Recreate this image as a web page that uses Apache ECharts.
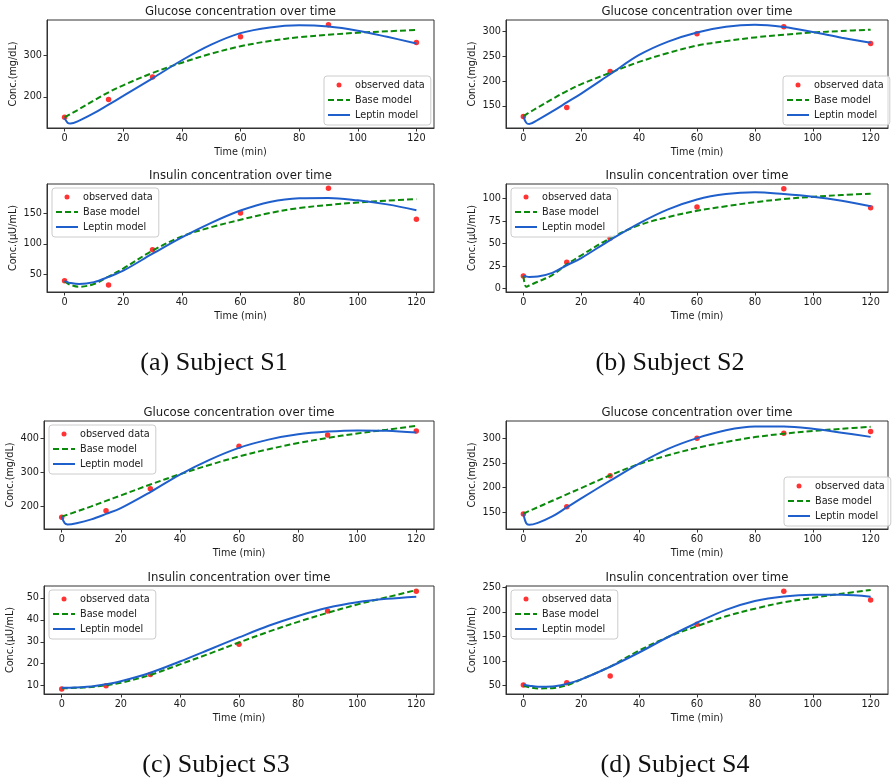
<!DOCTYPE html>
<html>
<head>
<meta charset="utf-8">
<script src="https://cdn.jsdelivr.net/npm/echarts@6/dist/echarts.min.js"></script>
<style>
html,body{margin:0;padding:0;background:#ffffff;}
#chart{width:895px;height:781px;}
</style>
</head>
<body>
<div id="chart"></div>
<script>
// ---------- DATA ----------
const T_OBS = [0, 15, 30, 60, 90, 120];
const T_MODEL = [0, 1, 2, 5, 10, 15, 20, 30, 40, 50, 60, 70, 80, 90, 100, 110, 120];
const X_TICKS = [0, 20, 40, 60, 80, 100, 120];

// Subject S1
const S1_GLU_OBS = [150, 193.5, 248, 346, 375.6, 332.5];
const S1_GLU_BASE = [150, 154, 158, 170, 191, 211, 228, 258, 283, 305, 323, 336, 345, 351, 356, 359.5, 362.5];
const S1_GLU_LEPTIN = [148, 137, 135, 142, 160, 181, 202, 245, 289, 327, 355, 369, 374, 371, 361, 346, 330];
const S1_INS_OBS = [40.3, 33.2, 90.5, 150, 190, 139.7];
const S1_INS_BASE = [39.5, 36, 33.5, 30.5, 35, 47, 60, 89, 112, 127, 139, 150, 158, 163, 167, 170, 172.5];
const S1_INS_LEPTIN = [40, 38, 36.5, 35, 38, 46.5, 56.5, 84, 110.5, 134, 154, 168, 174, 174.5, 170.5, 164, 154.5];

// Subject S2
const S2_GLU_OBS = [128.4, 146.6, 219.6, 296, 310, 276.4];
const S2_GLU_BASE = [129.5, 133, 136.5, 147, 164, 180, 194, 217, 239, 257, 272, 281, 288.5, 294, 298.5, 301.5, 304];
const S2_GLU_LEPTIN = [129, 116, 113.5, 122, 139, 157, 175, 214, 253, 280, 298.5, 310, 314, 309.5, 299.5, 288, 277.5];
const S2_INS_OBS = [14, 29.4, 55.9, 90.8, 111, 89.7];
const S2_INS_BASE = [14, 2, 3.5, 7.7, 15, 27, 37, 56, 70.5, 79.5, 86.5, 91.5, 96, 99.5, 102, 104, 105.5];
const S2_INS_LEPTIN = [14.3, 13.5, 13, 13.5, 17.5, 26, 34, 54, 72.5, 88, 99, 105, 107, 105, 102, 97.5, 91.5];

// Subject S3
const S3_GLU_OBS = [169, 188, 252.4, 376.7, 409.7, 421.4];
const S3_GLU_BASE = [171, 174, 177, 186, 201, 217, 233, 265, 295, 322, 347, 368, 386, 401, 414, 425, 436];
const S3_GLU_LEPTIN = [171, 152, 148.5, 152, 163, 179, 196, 243, 294, 337, 372, 396, 411.5, 419.5, 423, 422, 416.5];
const S3_INS_OBS = [8.5, 10, 15.1, 28.9, 44, 53];
const S3_INS_BASE = [8.8, 8.8, 8.85, 9, 9.4, 10.2, 11.3, 14.9, 19.7, 24.6, 29.7, 34.6, 39.1, 43.2, 47, 50.3, 53.6];
const S3_INS_LEPTIN = [9, 9, 9, 9.2, 9.6, 10.6, 12, 15.9, 21, 26.5, 32, 37.3, 41.8, 45.5, 48, 49.6, 50.6];

// Subject S4
const S4_GLU_OBS = [146, 160.9, 224, 300.7, 310.9, 314.3];
const S4_GLU_BASE = [147, 149.5, 152, 160, 173, 186, 199, 225, 248, 266, 281, 293, 303, 310, 315.5, 320, 324];
const S4_GLU_LEPTIN = [146.5, 127, 124, 128, 141, 159.5, 178, 214, 249, 279, 301, 317, 324.5, 324.5, 320, 312, 303.5];
const S4_INS_OBS = [51.3, 56, 69.6, 175, 241.9, 224.3];
const S4_INS_BASE = [50, 48.5, 47, 44.6, 45, 51, 63, 89, 121.5, 149, 171, 191, 206.5, 219.5, 228.5, 237, 244.5];
const S4_INS_LEPTIN = [52.5, 51, 50, 48, 48.5, 54, 63, 88.5, 117.5, 149, 178, 204, 222, 231.5, 235, 235, 231];

// Tick labels
const S1_GLU_TICKS = [200, 300];
const S1_INS_TICKS = [50, 100, 150];
const S2_GLU_TICKS = [150, 200, 250, 300];
const S2_INS_TICKS = [0, 25, 50, 75, 100];
const S3_GLU_TICKS = [200, 300, 400];
const S3_INS_TICKS = [10, 20, 30, 40, 50];
const S4_GLU_TICKS = [150, 200, 250, 300];
const S4_INS_TICKS = [50, 100, 150, 200, 250];

const GLU_TITLE = 'Glucose concentration over time';
const INS_TITLE = 'Insulin concentration over time';
const GLU_YNAME = 'Conc.(mg/dL)';
const INS_YNAME = 'Conc.(\u03bcU/mL)';
const X_NAME = 'Time (min)';
const OBS_NAME = 'observed data';
const BASE_NAME = 'Base model';
const LEPTIN_NAME = 'Leptin model';
const CAPTIONS = ['(a) Subject S1', '(b) Subject S2', '(c) Subject S3', '(d) Subject S4'];

// ---------- LAYOUT ----------
const panels = [
  {g:[47,20,387,108], y:[124,387], ticks:S1_GLU_TICKS, yName:GLU_YNAME, title:GLU_TITLE, obs:S1_GLU_OBS, base:S1_GLU_BASE, lep:S1_GLU_LEPTIN, leg:[324,76]},
  {g:[47,184,387,108], y:[22,197], ticks:S1_INS_TICKS, yName:INS_YNAME, title:INS_TITLE, obs:S1_INS_OBS, base:S1_INS_BASE, lep:S1_INS_LEPTIN, leg:[52,188]},
  {g:[506,20,382,108], y:[105.4,323.7], ticks:S2_GLU_TICKS, yName:GLU_YNAME, title:GLU_TITLE, obs:S2_GLU_OBS, base:S2_GLU_BASE, lep:S2_GLU_LEPTIN, leg:[783,76]},
  {g:[506,184,382,108], y:[-3.7,116.2], ticks:S2_INS_TICKS, yName:INS_YNAME, title:INS_TITLE, obs:S2_INS_OBS, base:S2_INS_BASE, lep:S2_INS_LEPTIN, leg:[511,188]},
  {g:[44,421,390,108], y:[135,450.4], ticks:S3_GLU_TICKS, yName:GLU_YNAME, title:GLU_TITLE, obs:S3_GLU_OBS, base:S3_GLU_BASE, lep:S3_GLU_LEPTIN, leg:[49,425]},
  {g:[44,586,390,108], y:[6.2,55.45], ticks:S3_INS_TICKS, yName:INS_YNAME, title:INS_TITLE, obs:S3_INS_OBS, base:S3_INS_BASE, lep:S3_INS_LEPTIN, leg:[49,590]},
  {g:[506,421,382,108], y:[115.4,335.9], ticks:S4_GLU_TICKS, yName:GLU_YNAME, title:GLU_TITLE, obs:S4_GLU_OBS, base:S4_GLU_BASE, lep:S4_GLU_LEPTIN, leg:[784,477]},
  {g:[506,586,382,108], y:[33.2,252.6], ticks:S4_INS_TICKS, yName:INS_YNAME, title:INS_TITLE, obs:S4_INS_OBS, base:S4_INS_BASE, lep:S4_INS_LEPTIN, leg:[511,590]}
];
const captionPos = [[214,363],[670,363],[216,765],[675,765]];

const FONT = 'DejaVu Sans';
const TXT = '#1a1a1a';
const AX = '#333333';
const RED = '#ff0000';
const GREEN = '#0a8a0a';
const BLUE = '#1f5fcc';

const zip = (xs, ys) => xs.map((x, i) => [x, ys[i]]);

const grids = [], xAxes = [], yAxes = [], series = [], legends = [], titles = [];
panels.forEach((p, i) => {
  grids.push({left:p.g[0], top:p.g[1], width:p.g[2], height:p.g[3], show:true, borderColor:AX, borderWidth:1, backgroundColor:'transparent'});
  xAxes.push({
    type:'value', gridIndex:i, min:-6, max:126,
    axisLine:{show:true, onZero:false, lineStyle:{color:AX, width:1}},
    axisTick:{show:true, customValues:X_TICKS, length:3.5, lineStyle:{color:AX}},
    axisLabel:{customValues:X_TICKS, margin:5, fontSize:9.7, color:TXT, fontFamily:FONT},
    splitLine:{show:false},
    name:X_NAME, nameLocation:'middle', nameGap:19,
    nameTextStyle:{fontSize:9.7, color:TXT, fontFamily:FONT}
  });
  yAxes.push({
    type:'value', gridIndex:i, min:p.y[0], max:p.y[1],
    axisLine:{show:true, onZero:false, lineStyle:{color:AX, width:1}},
    axisTick:{show:true, customValues:p.ticks, length:3.5, lineStyle:{color:AX}},
    axisLabel:{customValues:p.ticks, margin:5, fontSize:9.7, color:TXT, fontFamily:FONT},
    splitLine:{show:false},
    name:p.yName, nameLocation:'middle', nameGap:29, nameRotate:90,
    nameTextStyle:{fontSize:9.7, color:TXT, fontFamily:FONT}
  });
  series.push({
    type:'scatter', name:OBS_NAME, xAxisIndex:i, yAxisIndex:i,
    data:zip(T_OBS, p.obs), symbol:'circle', symbolSize:5.5,
    itemStyle:{color:RED}, z:2, silent:true
  });
  series.push({
    type:'line', name:BASE_NAME, xAxisIndex:i, yAxisIndex:i,
    data:zip(T_MODEL, p.base), symbol:'none', smooth:0.35,
    lineStyle:{color:GREEN, width:2, type:[6,3]}, itemStyle:{color:GREEN}, z:3, silent:true
  });
  series.push({
    type:'line', name:LEPTIN_NAME, xAxisIndex:i, yAxisIndex:i,
    data:zip(T_MODEL, p.lep), symbol:'none', smooth:0.35,
    lineStyle:{color:BLUE, width:2}, itemStyle:{color:BLUE}, z:4, silent:true
  });
  legends.push({
    left:p.leg[0], top:p.leg[1], orient:'vertical',
    data:[
      {name:OBS_NAME, icon:'circle'},
      {name:BASE_NAME, itemStyle:{opacity:0}},
      {name:LEPTIN_NAME, itemStyle:{opacity:0}}
    ],
    itemWidth:22, itemHeight:5, itemGap:3,
    padding:[3,6,4,3],
    backgroundColor:'rgba(255,255,255,0.8)', borderColor:'#cccccc', borderWidth:1, borderRadius:3,
    selectedMode:false,
    textStyle:{fontSize:9.7, color:TXT, fontFamily:FONT, lineHeight:12}
  });
  titles.push({
    text:p.title, left:p.g[0] + p.g[2] / 2, top:p.g[1] - 8,
    textAlign:'center', textVerticalAlign:'middle', padding:0,
    textStyle:{fontSize:11.7, fontWeight:'normal', color:TXT, fontFamily:FONT}
  });
});
CAPTIONS.forEach((c, i) => {
  titles.push({
    text:c, left:captionPos[i][0], top:captionPos[i][1],
    textAlign:'center', textVerticalAlign:'middle', padding:0,
    textStyle:{fontSize:26, fontWeight:'normal', color:'#111', fontFamily:'Liberation Serif'}
  });
});

const chart = echarts.init(document.getElementById('chart'), null, {renderer:'canvas'});
chart.setOption({
  backgroundColor:'#ffffff',
  animation:false,
  title:titles,
  grid:grids,
  xAxis:xAxes,
  yAxis:yAxes,
  legend:legends,
  series:series
});
</script>
</body>
</html>
